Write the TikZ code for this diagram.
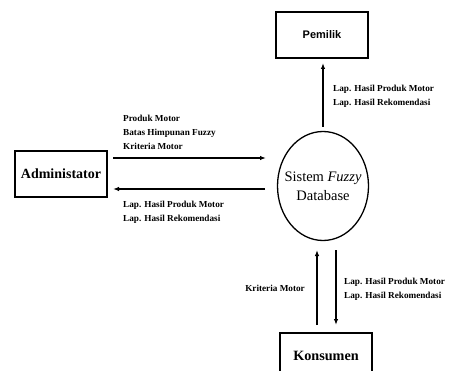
\documentclass[tikz,border=0pt]{standalone}
\usepackage{fontspec}
\setmainfont{Liberation Serif}
\newfontfamily\arialfont{Liberation Sans}
\usetikzlibrary{arrows.meta,shapes.geometric}
\tikzset{
  entity/.style={draw, line width=1.6pt, minimum width=92pt, minimum height=46pt, inner sep=0pt},
  flow/.style={line width=1.3pt, -{Latex[length=6pt,width=4.5pt]}},
  flowlabel/.style={font=\bfseries\fontsize{9.2}{14}\selectfont, align=left, inner sep=0pt},
}
\begin{document}
\begin{tikzpicture}[x=1pt, y=-1pt]
\useasboundingbox (0,0) rectangle (457,371);
\clip (0,0) rectangle (457,371);

% external entities
\node[entity, font=\arialfont\bfseries\fontsize{11}{12}\selectfont] (pemilik) at (322,35) {Pemilik};
\node[entity, font=\bfseries\fontsize{14}{16}\selectfont] (admin) at (61,174) {Administator};
\node[entity, font=\bfseries\fontsize{14.2}{16}\selectfont] (konsumen) at (326,356) {Konsumen};

% process: outline and its caption
\node[draw, ellipse, line width=1.3pt, minimum width=91pt, minimum height=109pt, inner sep=0pt] (proc) at (323,186) {};
\node[align=center, inner sep=0pt, font=\fontsize{14.5}{19}\selectfont] (proctext) at (proc.center)
      {Sistem \textit{Fuzzy}\\Database};

% anchor points for the flows
\coordinate (a1) at (113,158);
\coordinate (a2) at (266,158);
\coordinate (b1) at (265,189);
\coordinate (b2) at (113,189);
\coordinate (p1) at (323,127);
\coordinate (p2) at (323,63);
\coordinate (k1) at (317,325);
\coordinate (k2) at (317,250);
\coordinate (k3) at (336,250);
\coordinate (k4) at (336,325);

\draw[flow] (a1) -- (a2);
\draw[flow] (b1) -- (b2);
\draw[flow] (p1) -- (p2);
\draw[flow] (k1) -- (k2);
\draw[flow] (k3) -- (k4);

% flow labels
\node[flowlabel, anchor=west] (la) at (123,132) {Produk Motor\\Batas Himpunan Fuzzy\\Kriteria Motor};
\node[flowlabel, anchor=west] (lb) at (123,212) {Lap. Hasil Produk Motor\\Lap. Hasil Rekomendasi};
\node[flowlabel, anchor=west] (lp) at (333,96) {Lap. Hasil Produk Motor\\Lap. Hasil Rekomendasi};
\node[flowlabel, anchor=east] (lk) at (305,288) {Kriteria Motor};
\node[flowlabel, anchor=west] (lk2) at (344,289) {Lap. Hasil Produk Motor\\Lap. Hasil Rekomendasi};
\end{tikzpicture}
\end{document}
